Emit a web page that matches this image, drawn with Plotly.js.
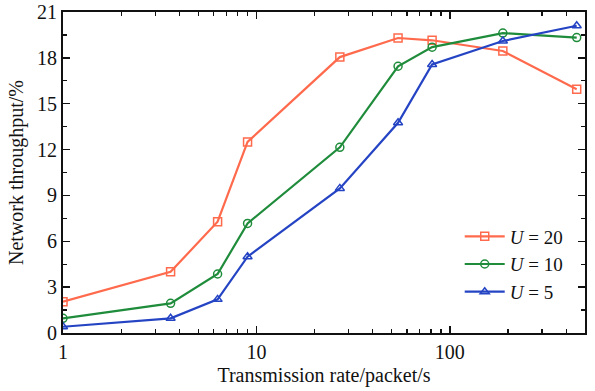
<!DOCTYPE html>
<html>
<head>
<meta charset="utf-8">
<script src="https://cdn.plot.ly/plotly-3.0.1.min.js"></script>
<style>html,body{margin:0;padding:0;background:#fff;}#chart{width:595px;height:391px;}</style>
</head>
<body>
<div id="chart"></div>
<script>
const rates = [1, 3.6, 6.3, 9, 27, 54, 81, 188, 453];
const u20 = [2.05, 4.0, 7.28, 12.5, 18.05, 19.3, 19.15, 18.45, 15.95];
const u10 = [0.96, 1.94, 3.86, 7.17, 12.15, 17.45, 18.7, 19.62, 19.33];
const u5 = [0.41, 0.96, 2.2, 4.99, 9.46, 13.75, 17.57, 19.1, 20.1];
const seriesNames = ['<i>U</i> = 20', '<i>U</i> = 10', '<i>U</i> = 5'];
const xTickVals = [1, 10, 100, 500];
const xTickText = ['1', '10', '100', '500'];
const yTickVals = [0, 3, 6, 9, 12, 15, 18, 21];

const minorX = [];
for (let d = 1; d <= 100; d *= 10) {
  for (let k = 2; k <= 9; k++) { const v = k * d; if (v < 500 && v !== 10 && v !== 100) minorX.push(v); }
}

const colors = ['#FF6A4D', '#1F8C3B', '#2544C4'];
const symbols = ['square-open', 'circle-open', 'triangle-up-open'];
const ys = [u20, u10, u5];
const traces = ys.map((y, i) => ({
  x: rates, y: y, type: 'scatter', mode: 'lines+markers', name: seriesNames[i],
  line: {color: colors[i], width: 2.2},
  marker: {symbol: symbols[i], size: 8, color: colors[i], line: {width: 1.5, color: colors[i]}}
}));

const fam = '"Liberation Serif", serif';
const font = {family: fam, color: '#111', size: 20};
const layout = {
  width: 595, height: 391,
  margin: {l: 63, r: 10, t: 12, b: 58},
  paper_bgcolor: '#fff', plot_bgcolor: '#fff',
  font: font,
  showlegend: true,
  legend: {x: 0.76, y: 0.36, xanchor: 'left', yanchor: 'top', bgcolor: 'rgba(0,0,0,0)',
           font: {family: fam, size: 19, color: '#111'}, tracegroupgap: 0, itemwidth: 40},
  xaxis: {
    type: 'log', range: [0, Math.log10(500)],
    tickvals: xTickVals, ticktext: xTickText,
    ticks: 'inside', ticklen: 7, tickwidth: 1.5, tickcolor: '#111',
    showline: true, linecolor: '#111', linewidth: 2, mirror: 'ticks',
    showgrid: false, zeroline: false,
    minor: {tickvals: minorX, ticks: 'inside', ticklen: 4, tickwidth: 1.2, tickcolor: '#111', showgrid: false},
    tickfont: {family: fam, size: 20},
    title: {text: 'Transmission rate/packet/s', font: {family: fam, size: 20}, standoff: 6}
  },
  yaxis: {
    range: [0, 21], tickvals: yTickVals,
    ticks: 'inside', ticklen: 7, tickwidth: 1.5, tickcolor: '#111',
    showline: true, linecolor: '#111', linewidth: 2, mirror: 'ticks',
    showgrid: false, zeroline: false,
    minor: {dtick: 1.5, ticks: 'inside', ticklen: 4, tickwidth: 1.2, tickcolor: '#111', showgrid: false},
    tickfont: {family: fam, size: 20},
    title: {text: 'Network throughput/%', font: {family: fam, size: 20}, standoff: 8}
  }
};
Plotly.newPlot('chart', traces, layout, {displayModeBar: false, staticPlot: true});
</script>
</body>
</html>
